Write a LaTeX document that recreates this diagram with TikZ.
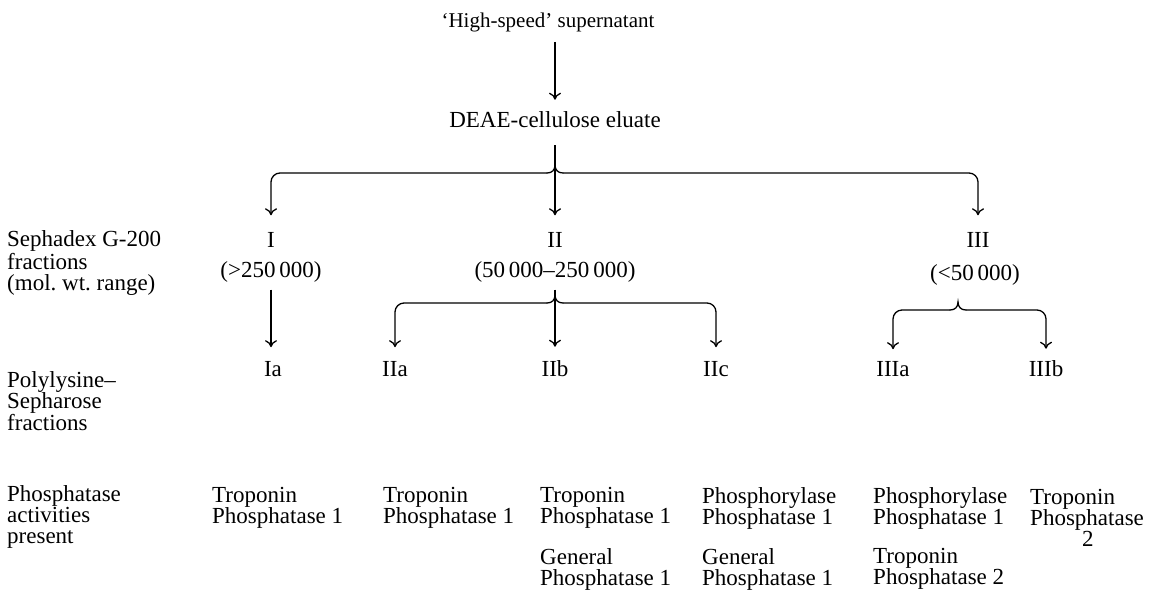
\documentclass[tikz,border=0pt]{standalone}
\usepackage{fontspec}
\setmainfont{Liberation Serif}
\usetikzlibrary{arrows.meta}

\tikzset{
  lbl/.style={font=\fontsize{23}{21}\selectfont, inner sep=0pt},
  lft/.style={lbl, align=left, anchor=west},
  act/.style={lbl, align=left, anchor=west},
  arr/.style={-{To[length=7pt,width=12pt]}, line width=1.3pt},
  brk/.style={arr, rounded corners=9pt},
  cusp/.style={line width=1.3pt, line cap=round},
}

\begin{document}
\begin{tikzpicture}[x=1pt, y=-1pt]
    \useasboundingbox (0,0) rectangle (1158,592);

    % top of the scheme
    \node[lbl, font=\fontsize{21}{21}\selectfont] (hs) at (548,22) {`High-speed' supernatant};
    \node[lbl] (deae) at (555,120) {DEAE-cellulose eluate};
    \draw[arr, shorten <=10pt, shorten >=12pt] (hs.south -| deae.north) -- (deae.north);

    % Sephadex fractions
    \node[lbl] (I) at (271,240) {I};
    \node[lbl] (II) at (555,240) {II};
    \node[lbl] (III) at (978,240) {III};
    \node[lbl] (rI) at (271,272) {(>250\,000)};
    \node[lbl] (rII) at (555,272) {(50\,000--250\,000)};
    \node[lbl] (rIII) at (975,275) {(<50\,000)};

    \coordinate (jt) at (555,173);
    \draw[brk] ([xshift=-8pt]jt) -| ([yshift=17pt]I.north);
    \draw[brk] ([xshift=8pt]jt) -| ([yshift=17pt]III.north);
    \draw[cusp] ([xshift=-8pt]jt) .. controls ([xshift=-3pt]jt) and ([yshift=3pt]jt) .. ([yshift=8pt]jt)
        .. controls ([yshift=3pt]jt) and ([xshift=3pt]jt) .. ([xshift=8pt]jt);
    \draw[arr, shorten <=17pt, shorten >=17pt] (deae.south) -- (II.north);

    % Polylysine-Sepharose fractions
    \node[lbl] (Ia) at (273,369) {Ia};
    \node[lbl] (IIa) at (395,369) {IIa};
    \node[lbl] (IIb) at (555,369) {IIb};
    \node[lbl] (IIc) at (716,369) {IIc};
    \node[lbl] (IIIa) at (893,369) {IIIa};
    \node[lbl] (IIIb) at (1046,369) {IIIb};

    \draw[arr, shorten <=7pt, shorten >=14pt] (rI.south -| I.south) -- (Ia.north -| I.south);

    \coordinate (jII) at (555,303);
    \draw[brk] ([xshift=-8pt]jII) -| ([yshift=14pt]IIa.north);
    \draw[brk] ([xshift=8pt]jII) -| ([yshift=14pt]IIc.north);
    \draw[cusp] ([xshift=-8pt]jII) .. controls ([xshift=-3pt]jII) and ([yshift=3pt]jII) .. ([yshift=8pt]jII)
        .. controls ([yshift=3pt]jII) and ([xshift=3pt]jII) .. ([xshift=8pt]jII);
    \draw[arr, shorten <=7pt, shorten >=14pt] (rII.south) -- (IIb.north);

    \coordinate (jIII) at (958,310);
    \draw[brk] ([xshift=-8pt]jIII) -| ([yshift=12pt]IIIa.north);
    \draw[brk] ([xshift=8pt]jIII) -| ([yshift=12pt]IIIb.north);
    \draw[cusp] ([xshift=-8pt]jIII) .. controls ([xshift=-3pt]jIII) and ([yshift=3pt]jIII) .. ([yshift=8pt]jIII)
        .. controls ([yshift=3pt]jIII) and ([xshift=3pt]jIII) .. ([xshift=8pt]jIII);

    % row captions
    \node[lft] (sep) at (7,263) {Sephadex G-200\\fractions\\(mol.\ wt.\ range)};
    \node[lft] (poly) at (7,401) {Polylysine--\\Sepharose\\fractions};
    \node[lft] (phos) at (7,517) {Phosphatase\\activities\\present};

    % phosphatase activities
    \node[act] (aIa) at (212,508) {Troponin\\Phosphatase 1};
    \node[act] (aIIa) at (383,508) {Troponin\\Phosphatase 1};
    \node[act] (aIIb) at (540,508) {Troponin\\Phosphatase 1};
    \node[act] (aIIb2) at (540,569) {General\\Phosphatase 1};
    \node[act] (aIIc) at (702,508) {Phosphorylase\\Phosphatase 1};
    \node[act] (aIIc2) at (702,569) {General\\Phosphatase 1};
    \node[act] (aIIIa) at (873,508) {Phosphorylase\\Phosphatase 1};
    \node[act] (aIIIa2) at (873,569) {Troponin\\Phosphatase 2};
    \node[act] (aIIIb) at (1030,518) {Troponin\\Phosphatase\\\hspace*{52pt}2};

\end{tikzpicture}
\end{document}
